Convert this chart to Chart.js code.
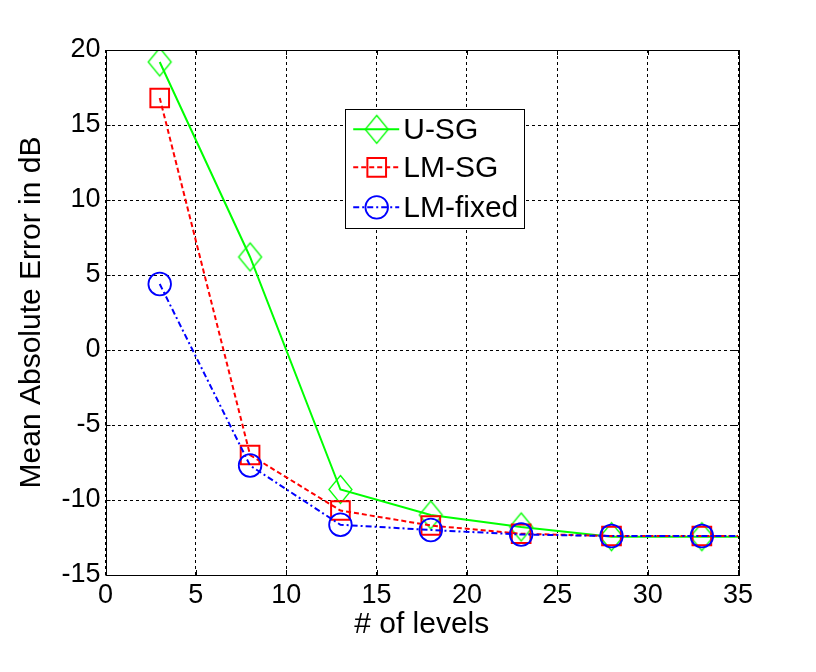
<!DOCTYPE html>
<html>
<head>
<meta charset="utf-8">
<script src="https://cdn.jsdelivr.net/npm/chart.js@4.4.1/dist/chart.umd.min.js"></script>
<style>
  html, body { margin: 0; padding: 0; background: #ffffff; }
  #c { display: block; }
</style>
</head>
<body>
<canvas id="c" width="816" height="672"></canvas>
<script>
// ---- data ----
const levels   = [3, 8, 13, 18, 23, 28, 33, 38];
const uSG      = [19.2, 6.2, -9.3, -11.0, -11.8, -12.45, -12.45, -12.45];
const lmSG     = [16.8, -7.0, -10.7, -11.7, -12.25, -12.4, -12.4, -12.4];
const lmFixed  = [4.4, -7.7, -11.65, -12.0, -12.3, -12.4, -12.4, -12.4];
const seriesNames = ['U-SG', 'LM-SG', 'LM-fixed'];
const xTicks = [0, 5, 10, 15, 20, 25, 30, 35];
const yTicks = [-15, -10, -5, 0, 5, 10, 15, 20];
const xTitle = '# of levels';
const yTitle = 'Mean Absolute Error in dB';

const FONT = '"Liberation Sans", Arial, sans-serif';

// diamond marker (taller than wide, as in MATLAB)
function makeDiamond(color) {
  const cv = document.createElement('canvas');
  cv.width = 27; cv.height = 33;
  const g = cv.getContext('2d');
  g.strokeStyle = color; g.lineWidth = 1.3;
  g.beginPath();
  g.moveTo(13.5, 2.5); g.lineTo(25, 16.5); g.lineTo(13.5, 30.5); g.lineTo(2, 16.5); g.closePath();
  g.stroke();
  return cv;
}
const diamond = makeDiamond('#00ff00');

const pts = (ys) => levels.map((x, i) => ({x: x, y: ys[i]}));

const datasets = [
  { label: seriesNames[0], data: pts(uSG), borderColor: '#00ff00', borderWidth: 2, borderDash: [],
    pointStyle: diamond, pointRadius: 12, pointBorderColor: '#00ff00', pointBackgroundColor: 'rgba(0,0,0,0)',
    pointBorderWidth: 1.3, order: 2, tension: 0 },
  { label: seriesNames[1], data: pts(lmSG), borderColor: '#ff0000', borderWidth: 2, borderDash: [5, 3],
    pointStyle: 'rect', pointRadius: 13.2, pointBorderColor: '#ff0000', pointBackgroundColor: 'rgba(0,0,0,0)',
    pointBorderWidth: 2, order: 1, tension: 0 },
  { label: seriesNames[2], data: pts(lmFixed), borderColor: '#0000ff', borderWidth: 2, borderDash: [6, 3, 2, 3],
    pointStyle: 'circle', pointRadius: 11.3, pointBorderColor: '#0000ff', pointBackgroundColor: 'rgba(0,0,0,0)',
    pointBorderWidth: 1.8, order: 0, tension: 0 }
];

// frame + inward ticks + legend
const framePlugin = {
  id: 'matlabFrame',
  afterDatasetsDraw(chart) {
    const {ctx, chartArea: a, scales} = chart;
    ctx.save();
    ctx.setLineDash([]);
    ctx.strokeStyle = '#000';
    ctx.lineWidth = 1;
    const tl = 5;
    ctx.beginPath();
    xTicks.forEach(v => {
      const px = Math.round(scales.x.getPixelForValue(v)) + 0.5;
      ctx.moveTo(px, a.bottom); ctx.lineTo(px, a.bottom - tl);
      ctx.moveTo(px, a.top); ctx.lineTo(px, a.top + tl);
    });
    yTicks.forEach(v => {
      const py = Math.round(scales.y.getPixelForValue(v)) + 0.5;
      ctx.moveTo(a.left, py); ctx.lineTo(a.left + tl, py);
      ctx.moveTo(a.right, py); ctx.lineTo(a.right - tl, py);
    });
    ctx.stroke();
    ctx.strokeRect(Math.round(a.left) + 0.5, Math.round(a.top) + 0.5,
                   Math.round(a.right - a.left), Math.round(a.bottom - a.top));

    // legend box
    const bx = a.left + (a.right - a.left) * 0.379;
    const by = a.top + (a.bottom - a.top) * 0.113;
    const bw = 179, bh = 119;
    ctx.fillStyle = '#ffffff';
    ctx.fillRect(bx, by, bw, bh);
    ctx.strokeRect(Math.round(bx) + 0.5, Math.round(by) + 0.5, bw, bh);
    const rows = [20, 58, 98];
    chart.data.datasets.forEach((ds, i) => {
      const cy = by + rows[i];
      ctx.save();
      ctx.strokeStyle = ds.borderColor;
      ctx.lineWidth = ds.borderWidth;
      ctx.setLineDash(ds.borderDash);
      ctx.beginPath();
      ctx.moveTo(bx + 8, cy); ctx.lineTo(bx + 54, cy);
      ctx.stroke();
      ctx.setLineDash([]);
      ctx.strokeStyle = ds.pointBorderColor;
      ctx.fillStyle = 'rgba(0,0,0,0)';
      ctx.lineWidth = ds.pointBorderWidth;
      Chart.helpers.drawPoint(ctx, {pointStyle: ds.pointStyle, radius: ds.pointRadius,
        borderWidth: ds.pointBorderWidth, rotation: 0}, bx + 31.5, cy);
      ctx.restore();
      ctx.fillStyle = '#000';
      ctx.font = '30px ' + FONT;
      ctx.textBaseline = 'middle';
      ctx.textAlign = 'left';
      ctx.fillText(ds.label, bx + 58, cy + 1);
    });
    ctx.restore();
  }
};

new Chart(document.getElementById('c'), {
  type: 'line',
  data: { datasets: datasets },
  options: {
    responsive: false,
    animation: false,
    devicePixelRatio: 1,
    layout: { padding: { left: 0, right: 78, top: 50, bottom: 0 } },
    plugins: { legend: { display: false }, tooltip: { enabled: false } },
    scales: {
      x: {
        type: 'linear', min: 0, max: 35,
        afterBuildTicks(s) { s.ticks = xTicks.map(v => ({value: v})); },
        afterFit(s) { s.height = 97; },
        ticks: { color: '#000', font: { family: FONT, size: 27 }, padding: 4, maxRotation: 0, autoSkip: false },
        grid: { color: '#000', lineWidth: 1, drawTicks: false },
        border: { display: false, dash: [3, 3] },
        title: { display: true, text: xTitle, color: '#000', font: { family: FONT, size: 30 }, padding: { top: 0, bottom: 29 } }
      },
      y: {
        type: 'linear', min: -15, max: 20,
        afterBuildTicks(s) { s.ticks = yTicks.map(v => ({value: v})); },
        afterFit(s) { s.width = 105.5; },
        ticks: { color: '#000', font: { family: FONT, size: 27 }, padding: 5, autoSkip: false },
        grid: { color: '#000', lineWidth: 1, drawTicks: false },
        border: { display: false, dash: [3, 3] },
        title: { display: true, text: yTitle, color: '#000', font: { family: FONT, size: 30 }, padding: { top: 14, bottom: 0 } }
      }
    }
  },
  plugins: [framePlugin]
});
</script>
</body>
</html>
